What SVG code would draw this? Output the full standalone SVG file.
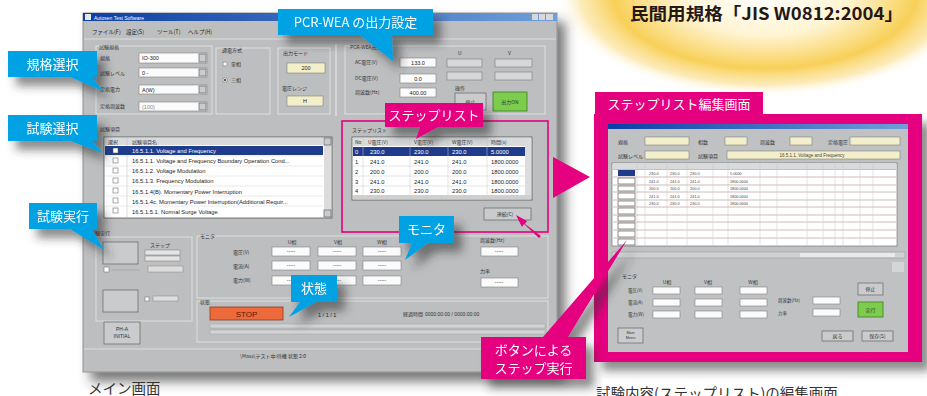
<svg xmlns="http://www.w3.org/2000/svg" width="927" height="396" viewBox="0 0 927 396">
<style>
.j{font-family:"Noto Sans CJK JP","Liberation Sans",sans-serif}
.s{font-family:"Liberation Sans","Noto Sans CJK JP",sans-serif}
.cw{fill:#fff;font-size:13px;text-anchor:middle}
.tiny{font-size:5px;fill:#333}
.tx{font-size:5.5px;fill:#222}
.win{fill:#bcbebf;stroke:#8f9192;stroke-width:1}
.fld{fill:#fbfbfb;stroke:#808080;stroke-width:.6}
.yel{fill:#f4efcb;stroke:#808080;stroke-width:.6}
.grp{fill:none;stroke:#e6e7e8;stroke-width:.8}
.btn{fill:#c9cbcc;stroke:#6e7072;stroke-width:.8}
.grn{fill:#7ccd4c;stroke:#3f7a2a;stroke-width:.8}
.cy{fill:#00a2e3}
.mg{fill:#e4007f}
.line{stroke:#9a9c9e;stroke-width:.6}
.rl{stroke:#b48c8c;stroke-width:.6}
</style>
<defs>
<radialGradient id="glow" cx="0.5" cy="0.5" r="0.5">
<stop offset="0" stop-color="#ffffff"/>
<stop offset="0.4" stop-color="#fff4d2"/>
<stop offset="0.72" stop-color="#f8d058"/>
<stop offset="0.88" stop-color="#fbe29a" stop-opacity="0.7"/>
<stop offset="1" stop-color="#ffffff" stop-opacity="0"/>
</radialGradient>
<linearGradient id="tb" x1="0" y1="0" x2="1" y2="0">
<stop offset="0" stop-color="#0b3ea6"/>
<stop offset="1" stop-color="#6f9fd9"/>
</linearGradient>
<filter id="wsh" x="-10%" y="-10%" width="125%" height="125%">
<feDropShadow dx="8" dy="9" stdDeviation="6" flood-color="#333" flood-opacity="0.65"/>
</filter>
<filter id="csh" x="-30%" y="-30%" width="170%" height="190%">
<feDropShadow dx="8" dy="9" stdDeviation="5" flood-color="#333" flood-opacity="0.55"/>
</filter>
</defs>
<rect width="927" height="396" fill="#ffffff"/>
<ellipse cx="765" cy="-5" rx="210" ry="102" fill="url(#glow)"/>
<text class="j" x="630" y="20" font-size="17" font-weight="bold" fill="#231815" textLength="273" lengthAdjust="spacingAndGlyphs">民間用規格「JIS W0812:2004」</text>

<g id="main-window">
<rect class="win" x="83" y="13" width="474" height="359" filter="url(#wsh)"/>
<rect x="83" y="13" width="474" height="8" fill="url(#tb)"/>
<rect x="85" y="14" width="6" height="6" fill="#e8e8e8"/>
<text class="s" x="94" y="19.5" font-size="5" fill="#fff">Autosen Test Software</text>
<rect x="532" y="14" width="6" height="6" fill="#d8d8d8"/><rect x="539" y="14" width="6" height="6" fill="#d8d8d8"/><rect x="546" y="14" width="7" height="6" fill="#d8d8d8"/>
<g class="j tx"><text x="92" y="34">ファイル(F)</text><text x="126" y="34">設定(S)</text><text x="157" y="34">ツール(T)</text><text x="188" y="34">ヘルプ(H)</text></g>
<line x1="84" y1="39" x2="556" y2="39" stroke="#e4e5e6" stroke-width=".8"/>

<g id="std-select">
<rect class="grp" x="96" y="46" width="116" height="68"/>
<g class="j tiny"><text x="99" y="49">試験規格</text><text x="100" y="60">規格</text><text x="100" y="75">試験レベル</text><text x="100" y="91">定格電力</text><text x="100" y="108">定格周波数</text></g>
<rect class="fld" x="139" y="53" width="68" height="10"/><rect class="btn" x="199" y="54" width="7" height="8"/>
<rect class="fld" x="139" y="68" width="68" height="9"/><rect class="btn" x="199" y="69" width="7" height="7"/>
<rect class="fld" x="139" y="85" width="68" height="9"/><rect class="btn" x="199" y="86" width="7" height="7"/>
<rect class="fld" x="139" y="102" width="68" height="9"/><rect class="btn" x="199" y="103" width="7" height="7"/>
<g class="s tx"><text x="142" y="60">IO-300</text><text x="142" y="75">0 -</text><text x="142" y="92">A(W)</text><text x="142" y="109" fill="#888">(100)</text></g>
</g>
<g id="phase">
<rect class="grp" x="216" y="48" width="54" height="66"/>
<g class="j tiny"><text x="222" y="52">通電方式</text><text x="231" y="66">単相</text><text x="231" y="82">三相</text></g>
<circle cx="225" cy="64" r="2.2" fill="#fff" stroke="#555" stroke-width=".5"/>
<circle cx="225" cy="80" r="2.2" fill="#fff" stroke="#555" stroke-width=".5"/><circle cx="225" cy="80" r="1" fill="#222"/>
</g>
<g id="mode">
<rect class="grp" x="278" y="48" width="52" height="66"/>
<g class="j tiny"><text x="283" y="55">出力モード</text><text x="282" y="90">電圧レンジ</text></g>
<rect class="yel" x="287" y="63" width="38" height="10"/><text class="s tx" x="306" y="70" text-anchor="middle">200</text>
<rect class="yel" x="287" y="96" width="36" height="10"/><text class="s tx" x="305" y="103" text-anchor="middle">H</text>
</g>
<line x1="336" y1="44" x2="336" y2="116" stroke="#e6e7e8" stroke-width="1.2"/>
<g id="pcr-output">
<rect class="grp" x="345" y="46" width="200" height="68"/>
<g class="j tiny"><text x="350" y="49">PCR-WEA出力</text><text x="355" y="64">AC電圧(V)</text><text x="355" y="80">DC電圧(V)</text><text x="355" y="94">周波数(Hz)</text><text x="458" y="55">U</text><text x="508" y="55">V</text><text x="455" y="90">操作</text></g>
<rect class="fld" x="400" y="58" width="36" height="9"/><rect class="fld" x="400" y="74" width="36" height="9"/><rect class="fld" x="400" y="88" width="36" height="9"/>
<g class="s tx" text-anchor="middle"><text x="418" y="64.5">133.0</text><text x="418" y="80.5">0.0</text><text x="418" y="94.5">400.00</text></g>
<rect x="447" y="59" width="35" height="8" fill="#d6d7d8" stroke="#7a7c7e" stroke-width=".6"/><rect x="447" y="72" width="35" height="8" fill="#d6d7d8" stroke="#7a7c7e" stroke-width=".6"/>
<rect x="495" y="59" width="37" height="8" fill="#d6d7d8" stroke="#7a7c7e" stroke-width=".6"/><rect x="495" y="72" width="37" height="8" fill="#d6d7d8" stroke="#7a7c7e" stroke-width=".6"/>
<rect class="btn" x="455" y="93" width="31" height="17"/><text class="j tiny" x="470.5" y="103.5" text-anchor="middle">停止</text>
<rect class="grn" x="493" y="92" width="34" height="19"/><text class="j tiny" x="510" y="103.5" text-anchor="middle">出力ON</text>
</g>

<g id="test-list">
<text class="j tiny" x="100" y="131">試験項目</text>
<rect x="104" y="137" width="228" height="81" fill="#fff" stroke="#555" stroke-width=".8"/>
<rect x="105" y="138" width="218" height="7" fill="#d9dadb"/>
<g class="j tiny"><text x="108" y="143.5">選択</text><text x="132" y="143.5">試験項目名</text></g>
<line x1="127" y1="138" x2="127" y2="217" stroke="#bbb" stroke-width=".5"/>
<rect x="105" y="146" width="218" height="9" fill="#1f3c8c"/>
<g stroke="#d0d0d0" stroke-width=".5"><line x1="105" y1="166" x2="323" y2="166"/><line x1="105" y1="176" x2="323" y2="176"/><line x1="105" y1="186" x2="323" y2="186"/><line x1="105" y1="196" x2="323" y2="196"/><line x1="105" y1="206" x2="323" y2="206"/><line x1="105" y1="156" x2="323" y2="156"/></g>
<g fill="#fff" stroke="#555" stroke-width=".5"><rect x="113" y="148" width="5" height="5"/><rect x="113" y="158" width="5" height="5"/><rect x="113" y="168" width="5" height="5"/><rect x="113" y="178" width="5" height="5"/><rect x="113" y="188" width="5" height="5"/><rect x="113" y="198" width="5" height="5"/><rect x="113" y="208" width="5" height="5"/></g>
<g class="s" font-size="5.8"><text x="132" y="153" fill="#fff">16.5.1.1. Voltage and Frequency</text>
<text x="132" y="163" fill="#222">16.5.1.1. Voltage and Frequency Boundary Operation Cond...</text>
<text x="132" y="173" fill="#222">16.5.1.2. Voltage Modulation</text>
<text x="132" y="183" fill="#222">16.5.1.3. Frequency Modulation</text>
<text x="132" y="194" fill="#222">16.5.1.4(B). Momentary Power Interruption</text>
<text x="132" y="204" fill="#222">16.5.1.4c. Momentary Power Interruption(Additional Requir...</text>
<text x="132" y="214" fill="#222">16.5.1.5.1. Normal Surge Voltage</text></g>
<rect x="324" y="138" width="7" height="79" fill="#dcdcdc"/>
<rect class="btn" x="324" y="138" width="7" height="7"/><rect class="btn" x="324" y="210" width="7" height="7"/>
</g>

<g id="step-list">
<text class="j tiny" x="352" y="132">ステップリスト</text>
<rect x="352" y="137" width="180" height="63" fill="#fff" stroke="#555" stroke-width=".8"/>
<rect x="353" y="138" width="172" height="8" fill="#d9dadb"/>
<g class="j tiny"><text x="355" y="144">No</text><text x="368" y="144">U電圧(V)</text><text x="414" y="144">V電圧(V)</text><text x="452" y="144">W電圧(V)</text><text x="491" y="144">時間(s)</text></g>
<rect x="353" y="147" width="172" height="9" fill="#1f3c8c"/>
<g stroke="#c8c8c8" stroke-width=".5"><line x1="363" y1="138" x2="363" y2="195"/><line x1="410" y1="138" x2="410" y2="195"/><line x1="448" y1="138" x2="448" y2="195"/><line x1="487" y1="138" x2="487" y2="195"/><line x1="353" y1="166" x2="525" y2="166"/><line x1="353" y1="176" x2="525" y2="176"/><line x1="353" y1="186" x2="525" y2="186"/></g>
<g class="s" font-size="5.8" fill="#222">
<text x="355" y="154" fill="#fff">0</text><text x="370" y="154" fill="#fff">230.0</text><text x="414" y="154" fill="#fff">230.0</text><text x="452" y="154" fill="#fff">230.0</text><text x="491" y="154" fill="#fff">5.0000</text>
<text x="355" y="164">1</text><text x="370" y="164">241.0</text><text x="414" y="164">241.0</text><text x="452" y="164">241.0</text><text x="491" y="164">1800.0000</text>
<text x="355" y="174">2</text><text x="370" y="174">200.0</text><text x="414" y="174">200.0</text><text x="452" y="174">200.0</text><text x="491" y="174">1800.0000</text>
<text x="355" y="184">3</text><text x="370" y="184">241.0</text><text x="414" y="184">241.0</text><text x="452" y="184">241.0</text><text x="491" y="184">1800.0000</text>
<text x="355" y="193">4</text><text x="370" y="193">230.0</text><text x="414" y="193">230.0</text><text x="452" y="193">230.0</text><text x="491" y="193">1800.0000</text></g>
<rect x="525" y="138" width="6" height="57" fill="#dcdcdc"/>
<rect x="353" y="195" width="178" height="4" fill="#cfcfcf"/>
<rect class="btn" x="484" y="208" width="47" height="12"/><text class="j tiny" x="505" y="216" text-anchor="middle">連続(C)</text>
<rect x="342" y="121" width="206" height="111" fill="none" stroke="#e4007f" stroke-width="1.6"/>
</g>

<g id="test-run">
<text class="j tiny" x="90" y="235">試験実行</text>
<rect class="grp" x="96" y="237" width="96" height="84"/>
<rect class="btn" x="103" y="242" width="35" height="22" fill="#d2d4d5"/>
<text class="j tiny" x="150" y="247" fill="#777">ステップ</text>
<rect x="145" y="250" width="35" height="5" fill="#e4e4e4" stroke="#777" stroke-width=".5"/><rect x="145" y="256" width="35" height="5" fill="#e4e4e4" stroke="#777" stroke-width=".5"/>
<rect x="104" y="267" width="5" height="5" fill="#fff" stroke="#666" stroke-width=".5"/>
<line x1="112" y1="270" x2="140" y2="270" class="line"/><rect x="148" y="266" width="35" height="6" fill="#ddd" stroke="#888" stroke-width=".5"/>
<rect class="btn" x="103" y="290" width="35" height="22" fill="#d2d4d5"/>
<rect x="145" y="297" width="4" height="4" fill="#fff" stroke="#666" stroke-width=".5"/><rect x="153" y="296" width="25" height="5" fill="#ddd" stroke="#888" stroke-width=".5"/>
<rect class="btn" x="104" y="322" width="36" height="22"/>
<g class="s tiny" text-anchor="middle"><text x="122" y="331">PH-A</text><text x="122" y="338">INITIAL</text></g>
</g>

<g id="monitor">
<rect class="grp" x="197" y="236" width="351" height="62"/>
<text class="j tiny" x="200" y="238">モニタ</text>
<g class="j tiny" text-anchor="middle"><text x="292" y="244">U相</text><text x="338" y="244">V相</text><text x="382" y="244">W相</text></g>
<g class="j tiny"><text x="233" y="254">電圧(V)</text><text x="233" y="268">電流(A)</text><text x="233" y="282">電力(W)</text><text x="480" y="242">周波数(Hz)</text><text x="480" y="273">力率</text></g>
<g><rect class="fld" x="272" y="247" width="38" height="9"/><rect class="fld" x="318" y="247" width="38" height="9"/><rect class="fld" x="363" y="247" width="38" height="9"/>
<rect class="fld" x="272" y="261" width="38" height="9"/><rect class="fld" x="318" y="261" width="38" height="9"/><rect class="fld" x="363" y="261" width="38" height="9"/>
<rect class="fld" x="272" y="276" width="38" height="9"/><rect class="fld" x="318" y="276" width="38" height="9"/><rect class="fld" x="363" y="276" width="38" height="9"/>
<rect class="fld" x="481" y="247" width="37" height="9"/><rect class="fld" x="481" y="278" width="37" height="9"/></g>
<g class="s tiny" fill="#888" text-anchor="middle"><text x="291" y="253">-----</text><text x="337" y="253">-----</text><text x="382" y="253">-----</text><text x="291" y="267">-----</text><text x="337" y="267">-----</text><text x="382" y="267">-----</text><text x="291" y="282">-----</text><text x="337" y="282">-----</text><text x="382" y="282">-----</text><text x="499" y="253">-----</text><text x="499" y="284">-----</text></g>
</g>

<g id="status">
<rect class="grp" x="197" y="301" width="351" height="41"/>
<text class="j tiny" x="200" y="304">状態</text>
<rect x="210" y="307" width="73" height="13" fill="#ef6a3b" stroke="#8a3a22" stroke-width=".8"/>
<text class="s" x="246.5" y="317" font-size="8" fill="#5a1608" text-anchor="middle">STOP</text>
<text class="s tx" x="318" y="317">1 / 1 / 1</text>
<text class="j tiny" x="403" y="316">経過時間</text>
<text class="s tiny" x="425" y="316">0000:00:00 / 0000:00:00</text>
<rect x="210" y="324" width="335" height="4" fill="#d1d3d4" stroke="#9a9c9e" stroke-width=".4"/>
<rect x="210" y="330" width="335" height="4" fill="#d1d3d4" stroke="#9a9c9e" stroke-width=".4"/>
</g>
<line x1="84" y1="349" x2="556" y2="349" stroke="#e4e5e6" stroke-width=".8"/>
<text class="j tiny" x="240" y="358">\Mass\テスト中:待機  状態  2:0</text>
</g>

<g id="step-edit-screen">
<rect x="594" y="114" width="328" height="248" class="mg" filter="url(#csh)"/>
<rect x="595" y="92" width="168" height="23" class="mg"/>
<text class="j cw" x="679" y="109" font-size="13">ステップリスト編集画面</text>
<rect x="608" y="124" width="300" height="228" fill="#bfc1c2"/>
<rect x="608" y="124" width="300" height="5" fill="url(#tb)"/>
<g class="j tiny"><text x="618" y="144">規格</text><text x="698" y="144">相数</text><text x="760" y="144">周波数</text><text x="828" y="144">定格電圧</text><text x="618" y="158">試験レベル</text><text x="698" y="158">試験項目</text></g>
<rect class="yel" x="645" y="137" width="44" height="8"/><rect class="yel" x="725" y="137" width="22" height="8"/><rect class="yel" x="790" y="137" width="22" height="8"/><rect class="yel" x="850" y="137" width="50" height="8"/>
<rect class="yel" x="645" y="151" width="44" height="8"/><rect class="yel" x="727" y="151" width="173" height="8"/>
<text class="s" x="812" y="157" font-size="4.5" fill="#444" text-anchor="middle">16.5.1.1. Voltage and Frequency</text>
<rect x="612" y="163" width="285" height="83" fill="#fff" stroke="#666" stroke-width=".6"/>
<rect x="613" y="163" width="283" height="6" fill="#d9dadb"/>
<g class="rl"><line x1="613" y1="177" x2="896" y2="177"/><line x1="613" y1="185" x2="896" y2="185"/><line x1="613" y1="192" x2="896" y2="192"/><line x1="613" y1="200" x2="896" y2="200"/><line x1="613" y1="207" x2="896" y2="207"/><line x1="613" y1="215" x2="896" y2="215"/><line x1="613" y1="222" x2="896" y2="222"/><line x1="613" y1="230" x2="896" y2="230"/><line x1="613" y1="238" x2="896" y2="238"/><line x1="613" y1="169.5" x2="896" y2="169.5"/></g>
<g stroke="#c4c4c4" stroke-width=".5"><line x1="637" y1="163" x2="637" y2="246"/><line x1="645" y1="163" x2="645" y2="246"/><line x1="667" y1="163" x2="667" y2="246"/><line x1="687" y1="163" x2="687" y2="246"/><line x1="713" y1="163" x2="713" y2="246"/><line x1="728" y1="163" x2="728" y2="246"/><line x1="760" y1="163" x2="760" y2="246"/><line x1="777" y1="163" x2="777" y2="246"/><line x1="807" y1="163" x2="807" y2="246"/><line x1="823" y1="163" x2="823" y2="246"/><line x1="835" y1="163" x2="835" y2="246"/><line x1="843" y1="163" x2="843" y2="246"/><line x1="860" y1="163" x2="860" y2="246"/><line x1="873" y1="163" x2="873" y2="246"/></g>
<g fill="#fff" stroke="#444" stroke-width=".6"><rect x="618" y="178" width="17" height="6"/><rect x="618" y="186" width="17" height="5"/><rect x="618" y="193" width="17" height="6"/><rect x="618" y="201" width="17" height="5"/><rect x="618" y="208" width="17" height="6"/><rect x="618" y="216" width="17" height="5"/><rect x="618" y="223" width="17" height="6"/><rect x="618" y="231" width="17" height="6"/><rect x="618" y="239" width="17" height="6"/></g>
<rect x="618" y="170" width="17" height="6" fill="#1f3c8c"/>
<g class="s" font-size="3.8" fill="#444"><text x="649" y="175">230.0</text><text x="670" y="175">230.0</text><text x="690" y="175">230.0</text><text x="730" y="175">5.0000</text><text x="649" y="183">241.0</text><text x="670" y="183">241.0</text><text x="690" y="183">241.0</text><text x="730" y="183">1800.0000</text><text x="649" y="190">200.0</text><text x="670" y="190">200.0</text><text x="690" y="190">200.0</text><text x="730" y="190">1800.0000</text><text x="649" y="198">241.0</text><text x="670" y="198">241.0</text><text x="690" y="198">241.0</text><text x="730" y="198">1800.0000</text><text x="649" y="205">230.0</text><text x="670" y="205">230.0</text><text x="690" y="205">230.0</text><text x="730" y="205">1800.0000</text></g>
<rect x="612" y="252" width="293" height="6" fill="#d0d1d2" stroke="#888" stroke-width=".4"/><rect x="800" y="253" width="95" height="4" fill="#eaeaea"/>
<rect x="892" y="262" width="12" height="10" fill="#d4d5d6"/>
<text class="j tiny" x="622" y="278">モニタ</text>
<g class="j tiny" text-anchor="middle"><text x="667" y="284">U相</text><text x="708" y="284">V相</text><text x="753" y="284">W相</text></g>
<g class="j" font-size="4.5" fill="#333"><text x="628" y="292">電圧(V)</text><text x="628" y="304">電流(A)</text><text x="628" y="316">電力(W)</text><text x="778" y="302">周波数(Hz)</text><text x="778" y="315">力率</text></g>
<g><rect class="fld" x="653" y="287" width="27" height="7"/><rect class="fld" x="695" y="287" width="27" height="7"/><rect class="fld" x="740" y="287" width="27" height="7"/>
<rect class="fld" x="653" y="299" width="27" height="7"/><rect class="fld" x="695" y="299" width="27" height="7"/><rect class="fld" x="740" y="299" width="27" height="7"/>
<rect class="fld" x="653" y="311" width="27" height="7"/><rect class="fld" x="695" y="311" width="27" height="7"/><rect class="fld" x="740" y="311" width="27" height="7"/>
<rect class="fld" x="813" y="297" width="27" height="7"/><rect class="fld" x="813" y="309" width="27" height="7"/></g>
<rect class="btn" x="858" y="283" width="25" height="12"/><text class="j tiny" x="870.5" y="291" text-anchor="middle">停止</text>
<rect class="grn" x="858" y="302" width="25" height="15"/><text class="j tiny" x="870.5" y="311.5" text-anchor="middle">実行</text>
<rect class="btn" x="618" y="328" width="25" height="15"/><g class="s" font-size="3.8" fill="#333" text-anchor="middle"><text x="630.5" y="334">Main</text><text x="630.5" y="339">Menu</text></g>
<rect class="btn" x="822" y="331" width="31" height="10"/><text class="j tiny" x="837.5" y="338" text-anchor="middle">戻る</text>
<rect class="btn" x="862" y="331" width="31" height="10"/><text class="j tiny" x="877.5" y="338" text-anchor="middle">保存(S)</text>
</g>

<g id="connectors">
<polygon class="mg" points="553,157 590,177 553,198"/>
<polygon class="mg" points="541,236 525,224 527,221 516,215 522,227 524,224 539,238"/>
</g>

<g id="callout-pcr" filter="url(#csh)">
<path class="cy" d="M278,9 H433 V35 H392 L393,61 L360,35 H278 Z"/>
<text class="j cw" x="355.5" y="27">PCR-WEA の出力設定</text>
</g>
<g id="callout-kikaku" filter="url(#csh)">
<path class="cy" d="M8,51 H97 V77 H92 L103,91 L70,77 H8 Z"/>
<text class="j cw" x="52.5" y="69">規格選択</text>
</g>
<g id="callout-shiken" filter="url(#csh)">
<path class="cy" d="M8,115 H97 V141 H92 L103,153 L70,141 H8 Z"/>
<text class="j cw" x="52.5" y="133">試験選択</text>
</g>
<g id="callout-jikkou" filter="url(#csh)">
<path class="cy" d="M29,203 H97 V229 H92 L104,250 L70,229 H29 Z"/>
<text class="j cw" x="63" y="221">試験実行</text>
</g>
<g id="callout-monitor" filter="url(#csh)">
<path class="cy" d="M399,216 H454 V243 H428 L405,260 L412,243 H399 Z"/>
<text class="j cw" x="426.5" y="234">モニタ</text>
</g>
<g id="callout-joutai" filter="url(#csh)">
<path class="cy" d="M291,275 H337 V302 H316 L289,317 L300,302 H291 Z"/>
<text class="j cw" x="314" y="293">状態</text>
</g>
<g id="callout-steplist" filter="url(#csh)">
<path class="mg" d="M385,103 H483 V127 H438 L416,139 L420,127 H385 Z"/>
<text class="j cw" x="434" y="120">ステップリスト</text>
</g>
<g id="callout-button" filter="url(#csh)">
<path class="mg" d="M481,337 H543 L627,240 L568,337 H586 V379 H481 Z"/>
<text class="j cw" x="533.5" y="355" font-size="12">ボタンによる</text>
<text class="j cw" x="533.5" y="373" font-size="12">ステップ実行</text>
</g>

<text class="j" x="88" y="394" font-size="14.5" fill="#333">メイン画面</text>
<text class="j" x="596" y="399" font-size="14.5" fill="#333">試験内容(ステップリスト)の編集画面</text>
</svg>
